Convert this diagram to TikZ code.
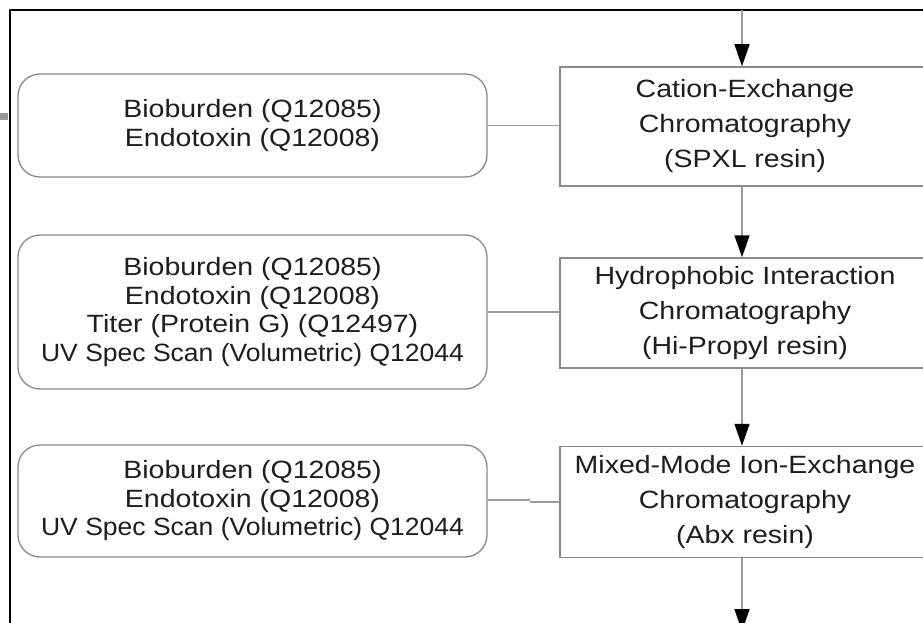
\documentclass[tikz,border=0pt]{standalone}
\usepackage{fontspec}
\setmainfont[FakeStretch=1.14]{Liberation Sans}
\usetikzlibrary{arrows.meta}
\definecolor{boxgray}{HTML}{8A8A8A}
\definecolor{linegray}{HTML}{9A9A9A}
\definecolor{inkgray}{HTML}{1E1E1E}

\begin{document}
\begin{tikzpicture}[x=1pt,y=-1pt,
  checkbox/.style={draw=boxgray, line width=1.3pt, rounded corners=22pt,
    align=center, text=inkgray, inner sep=0pt,
    font=\fontsize{25}{28.5}\selectfont, minimum width=469pt},
  stagebox/.style={draw=boxgray, line width=1.5pt, align=center,
    text=inkgray, inner sep=0pt,
    font=\fontsize{25}{35}\selectfont, minimum width=370pt},
  link/.style={draw=linegray, line width=1.3pt},
  flow/.style={draw=linegray, line width=1.5pt,
    -{Triangle[width=15pt,length=22pt,color=black]}}]

  \useasboundingbox (0,0) rectangle (923,623);
  \clip (0,0) rectangle (923,623);

  % page frame and margin tab
  \fill[white] (0,0) rectangle (923,623);
  \draw[black, line width=2.5pt] (10,650) -- (10,10) -- (950,10);
  \fill[gray!80] (0,113) rectangle (8,120);

  % in-process tests
  \node[checkbox, minimum height=103pt] (lb1) at (252.5,125.5)
    {Bioburden (Q12085)\\Endotoxin (Q12008)};
  \node[checkbox, minimum height=154pt] (lb2) at (252.5,312)
    {Bioburden (Q12085)\\Endotoxin (Q12008)\\Titer (Protein G) (Q12497)\\
     \scalebox{0.93}[1]{UV Spec Scan (Volumetric) Q12044}};
  \node[checkbox, minimum height=112pt] (lb3) at (252.5,501)
    {Bioburden (Q12085)\\Endotoxin (Q12008)\\
     \scalebox{0.93}[1]{UV Spec Scan (Volumetric) Q12044}};

  % chromatography steps (right side runs off the page)
  \node[stagebox, minimum height=119pt] (box1) at (745,126.5)
    {Cation-Exchange\\Chromatography\\(SPXL resin)};
  \node[stagebox, minimum height=110pt] (box2) at (745,313)
    {Hydrophobic Interaction\\Chromatography\\(Hi-Propyl resin)};
  \node[stagebox, minimum height=111pt] (box3) at (745,502)
    {Mixed-Mode Ion-Exchange\\Chromatography\\(Abx resin)};

  % process flow
  \coordinate (feed) at (742,10);
  \coordinate (outlet) at (742,631);
  \draw[flow] (feed) -- (feed |- box1.north);
  \draw[flow] (feed |- box1.south) -- (feed |- box2.north);
  \draw[flow] (feed |- box2.south) -- (feed |- box3.north);
  \draw[flow] (feed |- box3.south) -- (outlet);

  % sampling points
  \draw[link] (lb1.east) -- (lb1.east -| box1.west);
  \draw[link] (lb2.east) -- (lb2.east -| box2.west);
  \coordinate (jog) at (530,500);
  \draw[link] (lb3.east |- jog) -- (jog);
  \draw[link] (jog |- box3.west) -- (box3.west);
\end{tikzpicture}
\end{document}
